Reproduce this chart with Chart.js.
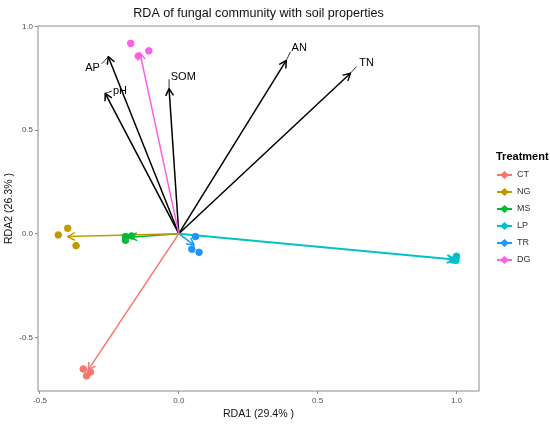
<!DOCTYPE html>
<html>
<head>
<meta charset="utf-8">
<script src="https://cdn.jsdelivr.net/npm/chart.js@4.4.0/dist/chart.umd.min.js"></script>
<style>
	html, body { margin: 0; padding: 0; background: #fff; }
	#wrap { width: 550px; height: 427px; }
</style>
</head>
<body>
<div id="wrap"><canvas id="rda"></canvas></div>
<script>
// treatments and colours
const treatments = ["CT", "NG", "MS", "LP", "TR", "DG"];
const colors = ["#F8766D", "#C09B00", "#00BA38", "#00C2C8", "#1E96FF", "#FF5FE4"];

// sample scores (3 replicates per treatment)
const sampleX = [
	[-0.344, -0.332, -0.318],
	[-0.434, -0.400, -0.370],
	[-0.192, -0.192, -0.170],
	[1.000, 0.987, 0.998],
	[0.060, 0.047, 0.073],
	[-0.173, -0.146, -0.108],
];
const sampleY = [
	[-0.653, -0.686, -0.667],
	[-0.006, 0.026, -0.058],
	[-0.014, -0.032, -0.011],
	[-0.109, -0.127, -0.129],
	[-0.014, -0.075, -0.090],
	[0.918, 0.857, 0.882],
];

// treatment arrows (centroids)
const arrowX = [-0.326, -0.400, -0.176, 0.992, 0.055, -0.140];
const arrowY = [-0.657, -0.014, -0.017, -0.125, -0.055, 0.873];

// soil properties
const envNames = ["AP", "pH", "SOM", "AN", "TN"];
const envX = [-0.254, -0.265, -0.035, 0.387, 0.618];
const envY = [0.854, 0.677, 0.700, 0.836, 0.774];
const leadX = [-0.278, -0.241, -0.035, 0.402, 0.640];
const leadY = [0.819, 0.688, 0.745, 0.877, 0.806];
const labelX = [-0.284, -0.237, -0.029, 0.406, 0.650];
const labelY = [0.799, 0.690, 0.757, 0.896, 0.823];
const labelAlign = ["right", "left", "left", "left", "left"];

const xTicks = [-0.5, 0, 0.5, 1.0];
const yTicks = [-0.5, 0, 0.5, 1.0];

const chartTitle = "RDA of fungal community with soil properties";
const FONT = "'Liberation Sans', Arial, Helvetica, sans-serif";

let datasets = [];
treatments.forEach(function (t, i) {
	datasets.push({
		label: t,
		type: "scatter",
		data: sampleX[i].map(function (x, j) { return { x: x, y: sampleY[i][j] }; }),
		backgroundColor: colors[i],
		borderColor: colors[i],
		pointRadius: 3.3,
		pointHoverRadius: 3.3,
		order: 0,
	});
});
treatments.forEach(function (t, i) {
	datasets.push({
		label: t + " arrow",
		type: "line",
		data: [{ x: 0, y: 0 }, { x: arrowX[i], y: arrowY[i] }],
		borderColor: colors[i],
		borderWidth: i == 3 ? 2 : 1.5,
		pointRadius: 0,
		arrowHead: true,
		order: 2,
	});
});
envNames.forEach(function (n, i) {
	datasets.push({
		label: n,
		type: "line",
		data: [{ x: 0, y: 0 }, { x: envX[i], y: envY[i] }],
		borderColor: "#000",
		borderWidth: 1.5,
		pointRadius: 0,
		arrowHead: true,
		order: 3,
	});
	datasets.push({
		label: n + " lead",
		type: "line",
		data: [{ x: envX[i], y: envY[i] }, { x: leadX[i], y: leadY[i] }],
		borderColor: "#000",
		borderWidth: 0.8,
		pointRadius: 0,
		order: 3,
	});
});

// open arrow heads at end of line datasets
const arrowPlugin = {
	id: "arrows",
	afterDatasetsDraw: function (chart) {
		const ctx = chart.ctx;
		const xs = chart.scales.x, ys = chart.scales.y;
		chart.data.datasets.forEach(function (ds) {
			if (!ds.arrowHead) return;
			const p0 = ds.data[0], p1 = ds.data[1];
			const x0 = xs.getPixelForValue(p0.x), y0 = ys.getPixelForValue(p0.y);
			const x1 = xs.getPixelForValue(p1.x), y1 = ys.getPixelForValue(p1.y);
			const a = Math.atan2(y1 - y0, x1 - x0);
			const len = 7.5, spread = 0.5;
			ctx.save();
			ctx.strokeStyle = ds.borderColor;
			ctx.lineWidth = ds.borderWidth;
			ctx.lineCap = "round";
			ctx.lineJoin = "round";
			ctx.beginPath();
			ctx.moveTo(x1 - len * Math.cos(a - spread), y1 - len * Math.sin(a - spread));
			ctx.lineTo(x1, y1);
			ctx.lineTo(x1 - len * Math.cos(a + spread), y1 - len * Math.sin(a + spread));
			ctx.stroke();
			ctx.restore();
		});
		// soil property labels
		ctx.save();
		ctx.fillStyle = "#000";
		ctx.font = "11px " + FONT;
		ctx.textBaseline = "middle";
		envNames.forEach(function (n, i) {
			ctx.textAlign = labelAlign[i];
			ctx.fillText(n, xs.getPixelForValue(labelX[i]), ys.getPixelForValue(labelY[i]));
		});
		ctx.restore();
	},
};

// panel border, title (centred on panel) and legend
const framePlugin = {
	id: "frame",
	afterDraw: function (chart) {
		const ctx = chart.ctx, a = chart.chartArea;
		ctx.save();
		ctx.strokeStyle = "#8c8c8c";
		ctx.lineWidth = 1;
		ctx.strokeRect(a.left, a.top, a.right - a.left, a.bottom - a.top);

		ctx.fillStyle = "#111";
		ctx.font = "12.6px " + FONT;
		ctx.textAlign = "center";
		ctx.textBaseline = "middle";
		ctx.fillText(chartTitle, (a.left + a.right) / 2, 14);

		ctx.fillStyle = "#000";
		ctx.font = "bold 11px " + FONT;
		ctx.textAlign = "left";
		ctx.fillText("Treatment", 496, 157);
		ctx.font = "9px " + FONT;
		treatments.forEach(function (t, i) {
			const y = 175 + i * 17;
			ctx.strokeStyle = colors[i];
			ctx.fillStyle = colors[i];
			ctx.lineWidth = 2;
			ctx.beginPath();
			ctx.moveTo(497, y);
			ctx.lineTo(512, y);
			ctx.stroke();
			ctx.beginPath();
			ctx.moveTo(504.5, y - 4);
			ctx.lineTo(509, y);
			ctx.lineTo(504.5, y + 4);
			ctx.lineTo(500, y);
			ctx.closePath();
			ctx.fill();
			ctx.fillStyle = "#333";
			ctx.fillText(t, 517, y);
		});
		ctx.restore();
	},
};

new Chart(document.getElementById("rda"), {
	type: "scatter",
	data: { datasets: datasets },
	plugins: [arrowPlugin, framePlugin],
	options: {
		responsive: true,
		maintainAspectRatio: false,
		animation: false,
		layout: { padding: { left: 0, right: 71, top: 26, bottom: 0 } },
		plugins: {
			legend: { display: false },
			tooltip: { enabled: false },
			title: { display: false },
		},
		scales: {
			x: {
				type: "linear",
				min: -0.507,
				max: 1.081,
				afterBuildTicks: function (s) { s.ticks = xTicks.map(function (v) { return { value: v }; }); },
				afterFit: function (s) { s.height = 36; },
				ticks: {
					color: "#4d4d4d",
					font: { family: FONT, size: 8 },
					padding: 2,
					callback: function (v) { return v.toFixed(1); },
				},
				grid: { display: true, drawOnChartArea: false, drawTicks: true, tickLength: 3, color: "#8c8c8c" },
				border: { display: false },
				title: {
					display: true,
					text: "RDA1 (29.4% )",
					color: "#111",
					font: { family: FONT, size: 10.6 },
					padding: { top: 0, bottom: 7 },
				},
			},
			y: {
				type: "linear",
				min: -0.759,
				max: 1.002,
				afterBuildTicks: function (s) { s.ticks = yTicks.map(function (v) { return { value: v }; }); },
				afterFit: function (s) { s.width = 38; },
				ticks: {
					color: "#4d4d4d",
					font: { family: FONT, size: 8 },
					padding: 2,
					callback: function (v) { return v.toFixed(1); },
				},
				grid: { display: true, drawOnChartArea: false, drawTicks: true, tickLength: 3, color: "#8c8c8c" },
				border: { display: false },
				title: {
					display: true,
					text: "RDA2 (26.3% )",
					color: "#111",
					font: { family: FONT, size: 10.6 },
					padding: { top: 3, bottom: 0 },
				},
			},
		},
	},
});
</script>
</body>
</html>
